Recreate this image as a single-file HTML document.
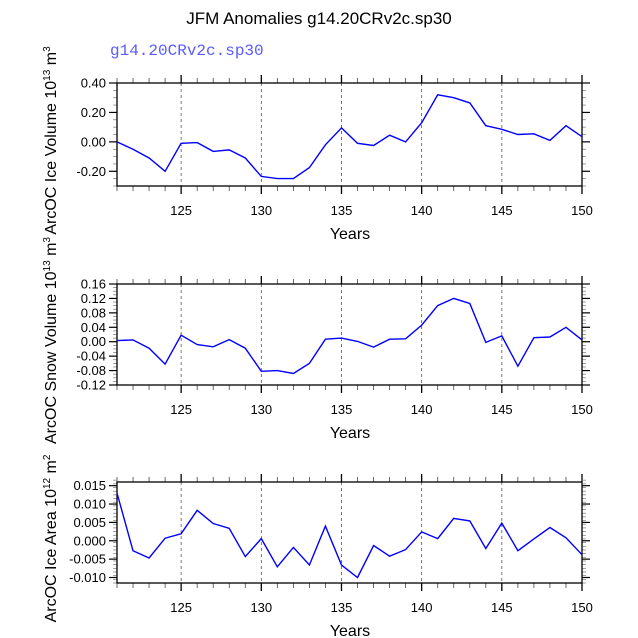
<!DOCTYPE html>
<html><head><meta charset="utf-8"><style>
body{margin:0;background:#fff}
svg{display:block;font-family:"Liberation Sans",sans-serif}
</style></head><body>
<svg id="c" width="638" height="638" xmlns="http://www.w3.org/2000/svg">
<text x="319" y="24" text-anchor="middle" font-size="17">JFM Anomalies g14.20CRv2c.sp30</text>
<text x="110" y="55" font-size="16" fill="#5a5aff" font-family="Liberation Mono,monospace">g14.20CRv2c.sp30</text>
</svg>
<script>
const years = [121,122,123,124,125,126,127,128,129,130,131,132,133,134,135,136,137,138,139,140,141,142,143,144,145,146,147,148,149,150];
const iceVolume = [0.0,-0.05,-0.11,-0.20,-0.01,-0.005,-0.065,-0.055,-0.11,-0.235,-0.25,-0.25,-0.175,-0.02,0.095,-0.01,-0.025,0.045,0.0,0.13,0.32,0.30,0.265,0.11,0.085,0.05,0.055,0.01,0.11,0.035];
const snowVolume = [0.003,0.005,-0.018,-0.062,0.018,-0.008,-0.014,0.006,-0.018,-0.082,-0.080,-0.088,-0.060,0.007,0.010,0.001,-0.015,0.007,0.008,0.046,0.100,0.120,0.106,-0.002,0.016,-0.068,0.011,0.013,0.040,0.005];
const iceArea = [0.013,-0.0027,-0.0047,0.0007,0.0019,0.0083,0.0047,0.0034,-0.0043,0.0006,-0.0071,-0.0018,-0.0066,0.0040,-0.0066,-0.0100,-0.0013,-0.0042,-0.0024,0.0024,0.0006,0.0061,0.0054,-0.0021,0.0048,-0.0027,0.0005,0.0036,0.0008,-0.0038];
const xTicks = [125,130,135,140,145,150];
const iceVolTicks = [0.40,0.20,0.00,-0.20];
const snowTicks = [0.16,0.12,0.08,0.04,0.00,-0.04,-0.08,-0.12];
const areaTicks = [0.015,0.010,0.005,0.000,-0.005,-0.010];

const svg = document.getElementById('c');
const NS = 'http://www.w3.org/2000/svg';
function mk(tag, attrs, parent){const e=document.createElementNS(NS,tag);for(const k in attrs)e.setAttribute(k,attrs[k]);(parent||svg).appendChild(e);return e;}
const X0=117, X1=582;
const xs = v => X0 + (v-121)/(150-121)*(X1-X0);

function panel(name, top, bot, ymin, ymax, ticks, dec, minorStep, vals, labelMain, exp){
  const g = mk('g',{});
  
  
  const ys = v => bot - (v-ymin)/(ymax-ymin)*(bot-top);
  xTicks.forEach(t=>{ if(t<150){ const l=mk('line',{x1:xs(t),x2:xs(t),y1:top,y2:bot,stroke:'#555','stroke-width':0.8,'stroke-dasharray':'3,3'},g);
    
    }});
  for(let y=121;y<=150;y++){const maj=xTicks.includes(y)||y===150;const L=maj?8:5;
    mk('line',{x1:xs(y),x2:xs(y),y1:bot,y2:bot+L,stroke:maj?'#000':'#444','stroke-width':maj?1.3:0.8},g);
    mk('line',{x1:xs(y),x2:xs(y),y1:top,y2:top-L,stroke:maj?'#000':'#444','stroke-width':maj?1.3:0.8},g);}
  const n=Math.round((ymax-ymin)/minorStep);
  for(let i=0;i<=n;i++){const v=ymin+i*minorStep;const y=ys(v);
    mk('line',{x1:X0-4,x2:X0,y1:y,y2:y,stroke:'#777','stroke-width':0.7},g);
    mk('line',{x1:X1,x2:X1+4,y1:y,y2:y,stroke:'#777','stroke-width':0.7},g);}
  ticks.forEach(t=>{const y=ys(t);
    mk('line',{x1:X0-8,x2:X0,y1:y,y2:y,stroke:'#000','stroke-width':1.2},g);
    mk('line',{x1:X1,x2:X1+8,y1:y,y2:y,stroke:'#000','stroke-width':1.2},g);
    const tx=mk('text',{x:X0-11,y:y+4.5,'text-anchor':'end','font-size':13},g);
    
    
    tx.textContent=t.toFixed(dec);});
  xTicks.forEach(t=>{const tx=mk('text',{x:xs(t),y:bot+29,'text-anchor':'middle','font-size':13},g);
    
    
    tx.textContent=t;});
  const xt=mk('text',{x:350,y:bot+53,'text-anchor':'middle','font-size':16},g);
  
  
  xt.textContent='Years';
  mk('rect',{x:X0,y:top,width:X1-X0,height:bot-top,fill:'none',stroke:'#000','stroke-width':1.3},g);
  const pts=vals.map((v,i)=>xs(years[i]).toFixed(1)+','+ys(Math.max(ymin,Math.min(ymax,v))).toFixed(1)).join(' ');
  const pl=mk('polyline',{points:pts,fill:'none',stroke:'#0000ff','stroke-width':1.4},g);
  
  
  const cy=(top+bot)/2+6;
  const yt=mk('text',{transform:`translate(56,${cy}) rotate(-90)`,'text-anchor':'middle','font-size':16},g);
  
  
  yt.innerHTML=labelMain+` 10<tspan dy="-6" font-size="10">${exp}</tspan><tspan dy="6"> m</tspan><tspan dy="-6" font-size="10">${name==='ice-area'?2:3}</tspan>`;
}
panel('ice-volume',83,186,-0.30,0.40,iceVolTicks,2,0.05,iceVolume,'ArcOC Ice Volume',13);
panel('snow-volume',284,385,-0.12,0.16,snowTicks,2,0.01,snowVolume,'ArcOC Snow Volume',13);
panel('ice-area',482,583,-0.0115,0.016,areaTicks,3,0.001,iceArea,'ArcOC Ice Area',12);
</script>
</body></html>
